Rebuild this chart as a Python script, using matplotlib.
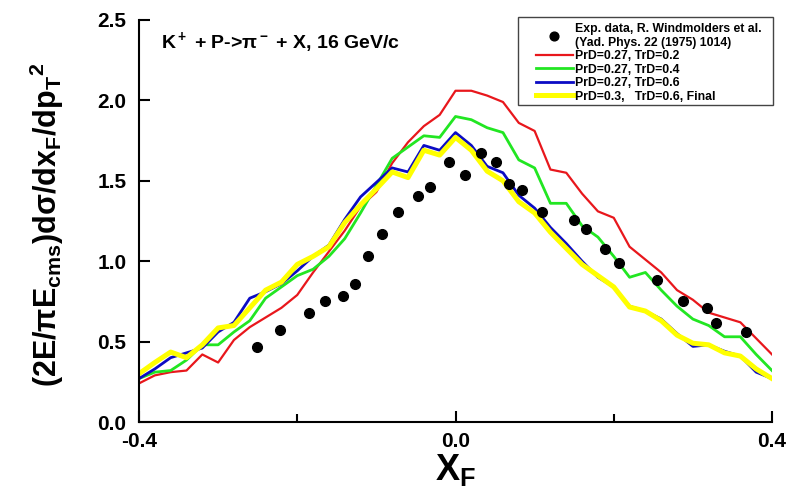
import numpy as np
import matplotlib.pyplot as plt
from matplotlib.patches import Rectangle

plt.rcParams['font.family'] = ['Liberation Sans', 'DejaVu Sans']
plt.rcParams['font.weight'] = 'bold'
plt.rcParams['axes.unicode_minus'] = False
plt.rcParams['mathtext.fontset'] = 'custom'
plt.rcParams['mathtext.rm'] = 'Liberation Sans:weight=bold'
plt.rcParams['mathtext.it'] = 'Liberation Sans:weight=bold'
plt.rcParams['mathtext.bf'] = 'Liberation Sans:weight=bold'
plt.rcParams['mathtext.default'] = 'rm'

# model curves on a common xF grid
xf = np.linspace(-0.4, 0.4, 41)
red = [0.24, 0.29, 0.31, 0.32, 0.42, 0.37, 0.51, 0.59, 0.65, 0.71, 0.79,
       0.93, 1.06, 1.19, 1.34, 1.43, 1.61, 1.74, 1.84, 1.91, 2.06, 2.06,
       2.03, 1.99, 1.86, 1.81, 1.57, 1.55, 1.42, 1.31, 1.27, 1.09, 1.01,
       0.93, 0.82, 0.76, 0.68, 0.65, 0.62, 0.52, 0.42]
green = [0.27, 0.31, 0.32, 0.385, 0.48, 0.48, 0.56, 0.63, 0.77, 0.84, 0.91,
         0.95, 1.03, 1.14, 1.30, 1.47, 1.64, 1.71, 1.78, 1.77, 1.90, 1.88,
         1.83, 1.80, 1.63, 1.58, 1.36, 1.36, 1.22, 1.15, 1.03, 0.90, 0.93,
         0.82, 0.72, 0.64, 0.60, 0.53, 0.53, 0.42, 0.32]
blue = [0.27, 0.33, 0.40, 0.43, 0.46, 0.56, 0.62, 0.77, 0.81, 0.86, 0.94,
        1.03, 1.10, 1.26, 1.40, 1.49, 1.58, 1.555, 1.72, 1.69, 1.80, 1.72,
        1.59, 1.55, 1.41, 1.33, 1.21, 1.11, 1.00, 0.90, 0.84, 0.72, 0.69,
        0.64, 0.55, 0.47, 0.48, 0.44, 0.41, 0.31, 0.27]
yellow = [0.30, 0.37, 0.435, 0.40, 0.48, 0.585, 0.60, 0.71, 0.82, 0.87, 0.98,
          1.03, 1.09, 1.24, 1.35, 1.45, 1.555, 1.52, 1.69, 1.66, 1.77, 1.69,
          1.56, 1.50, 1.37, 1.30, 1.18, 1.08, 0.98, 0.91, 0.84, 0.715, 0.69,
          0.63, 0.54, 0.49, 0.48, 0.43, 0.41, 0.33, 0.27]

# experimental points
exp_x = [-0.251, -0.222, -0.185, -0.165, -0.142, -0.127, -0.111, -0.093,
         -0.073, -0.047, -0.032, -0.008, 0.012, 0.032, 0.051, 0.068, 0.084,
         0.109, 0.150, 0.165, 0.189, 0.207, 0.255, 0.288, 0.318, 0.329, 0.367]
exp_y = [0.466, 0.572, 0.678, 0.752, 0.784, 0.858, 1.032, 1.169, 1.306,
         1.405, 1.461, 1.617, 1.536, 1.673, 1.617, 1.480, 1.443, 1.306,
         1.256, 1.200, 1.076, 0.989, 0.883, 0.752, 0.709, 0.616, 0.560]

labels = ['Exp. data, R. Windmolders et al.\n(Yad. Phys. 22 (1975) 1014)',
          'PrD=0.27, TrD=0.2', 'PrD=0.27, TrD=0.4', 'PrD=0.27, TrD=0.6',
          'PrD=0.3,   TrD=0.6, Final']

fig = plt.figure(figsize=(7.94, 4.98), dpi=100)
ax = fig.add_axes([139 / 794, 1 - 422 / 498, 633 / 794, 402 / 498])

l1, = ax.plot(xf, red, color='#e8171c', lw=1.6)
l2, = ax.plot(xf, green, color='#22e622', lw=2.0)
l3, = ax.plot(xf, blue, color='#0c0cc4', lw=2.0)
l4, = ax.plot(xf, yellow, color='#ffff00', lw=3.6)
d, = ax.plot(exp_x, exp_y, 'o', color='black', ms=7, ls='none')

ax.set_xlim(-0.4, 0.4)
ax.set_ylim(0, 2.5)
ax.set_xticks([-0.4, 0.0, 0.4])
ax.set_xticks([-0.2, 0.2], minor=True)
ax.set_yticks(np.arange(0, 2.51, 0.5))
ax.spines['top'].set_visible(False)
ax.spines['right'].set_visible(False)
for s in ['left', 'bottom']:
    ax.spines[s].set_linewidth(1.5)
ax.tick_params(which='both', direction='in', width=1.5, labelsize=15)
ax.tick_params(which='major', length=8)
ax.tick_params(which='minor', length=6)
ax.tick_params(axis='x', pad=7)
ax.tick_params(axis='y', pad=9)

ax.set_xlabel('X$_F$', fontsize=26, fontweight='bold')
ax.xaxis.set_label_coords(0.5, -0.075)
ax.set_ylabel('(2E/πE$_{cms}$)dσ/dx$_F$/dp$_T$$^2$', fontsize=22,
              fontweight='bold')
ax.yaxis.set_label_coords(-0.115, 0.49)
ax.text(0.035, 0.975, r'K$^+$ + P->$\pi^-$ + X, 16 GeV/c', transform=ax.transAxes,
        fontsize=14, va='top', ha='left')

# legend frame drawn separately so its padding matches the original
fig.patches.append(Rectangle((518 / 794, 1 - 105 / 498), 255 / 794, 88 / 498,
                             transform=fig.transFigure, fill=False,
                             edgecolor='#444444', lw=1.0))
leg = fig.legend([d, l1, l2, l3, l4], labels, loc='upper left',
                 bbox_to_anchor=(536 / 794, 1 - 23 / 498), borderaxespad=0,
                 fontsize=8.8, handlelength=3, handletextpad=0.2,
                 labelspacing=0.12, frameon=False, borderpad=0,
                 markerscale=0.9)

fig.savefig('out.png', dpi=100)
